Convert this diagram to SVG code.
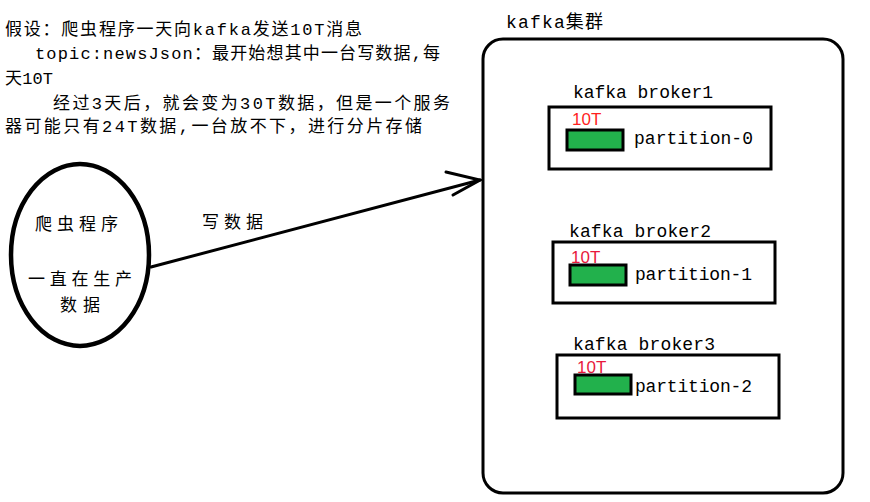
<svg xmlns="http://www.w3.org/2000/svg" width="870" height="502" viewBox="0 0 870 502">
<style>
.t{font-family:"Liberation Mono","Noto Sans CJK SC",monospace;font-size:17px;fill:#000}
.m{font-family:"Liberation Mono","Noto Sans CJK SC",monospace;font-size:18px;fill:#000}
.c{font-family:"Noto Sans CJK SC",sans-serif;font-size:17px;fill:#000}
.r{font-family:"Liberation Sans","Noto Sans CJK SC",sans-serif;font-size:17px}
.box{fill:#fff;stroke:#000;stroke-width:3}
.bar{fill:#22b14c;stroke:#000;stroke-width:3}
.ln{fill:none;stroke:#000;stroke-width:3;stroke-linecap:round}
</style>
<rect width="870" height="502" fill="#fff"/>
<g id="note">
<text class="t" x="5" y="35" textLength="357" lengthAdjust="spacing">假设：爬虫程序一天向kafka发送10T消息</text>
<text class="t" x="35" y="59" textLength="405" lengthAdjust="spacing">topic:newsJson：最开始想其中一台写数据,每</text>
<text class="t" x="5" y="84" textLength="48" lengthAdjust="spacing">天10T</text>
<text class="t" x="53" y="109" textLength="397" lengthAdjust="spacing">经过3天后，就会变为30T数据，但是一个服务</text>
<text class="t" x="5" y="132" textLength="417" lengthAdjust="spacing">器可能只有24T数据,一台放不下，进行分片存储</text>
</g>
<g id="crawler">
<ellipse cx="80" cy="255" rx="69" ry="91" fill="#fff" stroke="#000" stroke-width="4.5"/>
<text class="c" x="35" y="230" textLength="83" lengthAdjust="spacing">爬虫程序</text>
<text class="c" x="28" y="285" textLength="104" lengthAdjust="spacing">一直在生产</text>
<text class="c" x="60" y="311" textLength="40" lengthAdjust="spacing">数据</text>
</g>
<g id="connectors">
<line class="ln" x1="151" y1="267" x2="480" y2="180"/>
<polyline class="ln" points="446,172 480,180 453,195"/>
<text class="c" x="202" y="228" textLength="61" lengthAdjust="spacing">写数据</text>
</g>
<g id="cluster">
<rect class="box" x="483" y="39" width="360" height="454" rx="20" ry="20"/>
<text class="m" x="506" y="28" textLength="97" lengthAdjust="spacing">kafka集群</text>
</g>
<g id="broker1">
<text class="m" x="573" y="98" textLength="140" lengthAdjust="spacing">kafka broker1</text>
<rect class="box" x="549" y="107" width="222" height="62"/>
<text class="r" x="572" y="125" fill="#ff1f1f">10T</text>
<rect class="bar" x="567" y="130" width="56" height="20"/>
<text class="m" x="634" y="144" textLength="119" lengthAdjust="spacing">partition-0</text>
</g>
<g id="broker2">
<text class="m" x="569" y="237" textLength="142" lengthAdjust="spacing">kafka broker2</text>
<rect class="box" x="553" y="242" width="222" height="61"/>
<text class="r" x="571" y="263" fill="#e8193c">10T</text>
<rect class="bar" x="570" y="265" width="56" height="20"/>
<text class="m" x="635" y="280" textLength="117" lengthAdjust="spacing">partition-1</text>
</g>
<g id="broker3">
<text class="m" x="573" y="350" textLength="142" lengthAdjust="spacing">kafka broker3</text>
<rect class="box" x="557" y="355" width="222" height="63"/>
<text class="r" x="577" y="373" fill="#e8193c">10T</text>
<rect class="bar" x="575" y="375" width="56" height="19"/>
<text class="m" x="635" y="392" textLength="117" lengthAdjust="spacing">partition-2</text>
</g>
</svg>
